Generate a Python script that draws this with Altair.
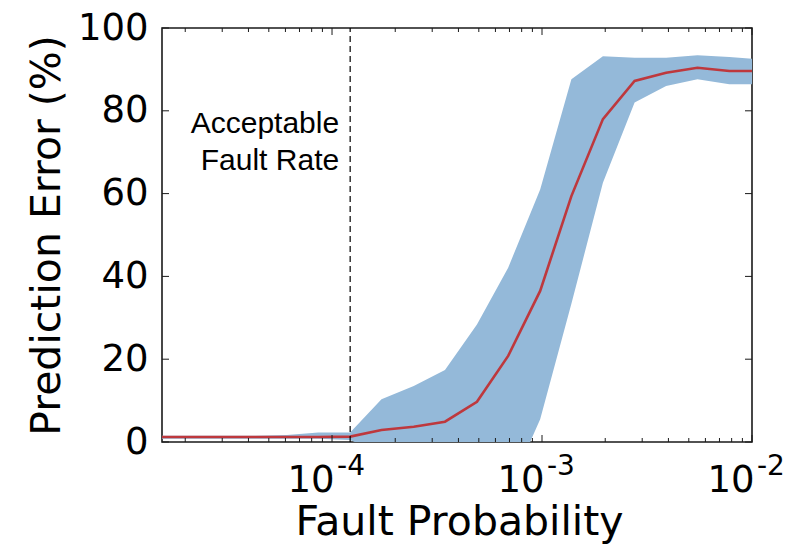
import altair as alt
import pandas as pd

# Fault probability sweep and prediction error statistics (%)
prob = [1.55e-5, 2.2e-5, 3.1e-5, 4.3e-5, 6.1e-5, 8.6e-5, 1.22e-4, 1.72e-4, 2.45e-4,
        3.45e-4, 4.9e-4, 6.9e-4, 9.8e-4, 1.38e-3, 1.95e-3, 2.76e-3, 3.9e-3, 5.5e-3,
        7.8e-3, 1.0e-2]
err_mean = [1.2, 1.2, 1.2, 1.2, 1.2, 1.2, 1.3, 2.9, 3.7, 4.9, 9.7, 20.8, 36.5, 59.4,
            78.0, 87.2, 89.2, 90.4, 89.6, 89.6]
err_upper = [1.5, 1.5, 1.5, 1.5, 1.7, 2.3, 2.3, 10.3, 13.5, 17.4, 28.4, 42.1, 61.0,
             87.6, 93.2, 92.8, 92.8, 93.4, 93.0, 92.6]
err_lower = [0.8, 0.8, 0.8, 0.8, 0.8, 0.8, 0.5, -3.0, -6.0, -9.0, -12.0, -12.0, 5.5,
             33.4, 62.6, 82.0, 86.0, 87.6, 86.4, 86.4]

acceptable_rate = 1.22e-4
annotation_lines = ["Acceptable", "Fault Rate"]
annotation_y = 76.7

x_major = [1e-4, 1e-3, 1e-2]
x_exponents = ["-4", "-3", "-2"]
x_minor = [m * 10.0 ** e for e in (-5, -4, -3) for m in range(2, 10)]
y_major = [0, 20, 40, 60, 80, 100]

W, H = 590, 414
MAJ, MIN = 7, 4
FRAME = "#1a1a1a"

df = pd.DataFrame({"p": prob, "mean": err_mean, "hi": err_upper, "lo": err_lower})

xscale = alt.Scale(type="log", domain=[1.55e-5, 1e-2], nice=False)
yscale = alt.Scale(domain=[0, 100], nice=False, zero=False)

# bottom axis shows the "10" mantissa; the exponents are a text layer
x_axis = alt.Axis(
    values=x_major, ticks=False, tickSize=0, domain=False, grid=False,
    labelExpr="'10'", labelAlign="right", labelOffset=2,
    labelFont="DejaVu Sans", labelFontSize=37, labelColor="black",
    labelPadding=20, labelFlush=False, labelOverlap=False,
    title="Fault Probability", titleFont="DejaVu Sans", titleFontSize=41,
    titleFontWeight="normal", titleColor="black", titleX=W / 2 + 2, titleY=92,
    titleAlign="center", titleBaseline="alphabetic",
)
y_axis = alt.Axis(
    values=y_major, ticks=False, tickSize=0, domain=False, grid=False,
    labelFont="DejaVu Sans", labelFontSize=37, labelColor="black", labelPadding=14,
    title="Prediction Error (%)", titleFont="DejaVu Sans", titleFontSize=41,
    titleFontWeight="normal", titleColor="black", titleAngle=270,
    titleX=-103, titleY=H / 2, titleAlign="center", titleBaseline="alphabetic",
)

band = alt.Chart(df).mark_area(color="#94b9d9", opacity=1, clip=True).encode(
    x=alt.X("p:Q", scale=xscale, axis=x_axis),
    y=alt.Y("hi:Q", scale=yscale, axis=y_axis),
    y2="lo:Q",
)

line = alt.Chart(df).mark_line(color="#be383d", strokeWidth=2.6, clip=True).encode(
    x=alt.X("p:Q", scale=xscale),
    y=alt.Y("mean:Q", scale=yscale),
)

thr = pd.DataFrame({"p": [acceptable_rate]})
threshold = alt.Chart(thr).mark_rule(color="black", strokeWidth=1.2, strokeDash=[6, 4]).encode(
    x=alt.X("p:Q", scale=xscale),
    y=alt.datum(0, scale=yscale),
    y2=alt.datum(100),
)

note = alt.Chart(thr).mark_text(
    text=annotation_lines, align="right", baseline="middle", dx=-11,
    lineHeight=37, font="Liberation Sans", fontSize=30, color="black",
).encode(
    x=alt.X("p:Q", scale=xscale),
    y=alt.datum(annotation_y, scale=yscale),
)

exps = pd.DataFrame({"p": x_major, "e": x_exponents})
exponent_text = alt.Chart(exps).mark_text(
    align="left", baseline="alphabetic", dx=5, font="DejaVu Sans", fontSize=28,
    color="black",
).encode(
    x=alt.X("p:Q", scale=xscale),
    y=alt.value(H + 33),
    text="e:N",
)


def x_ticks(vals, length):
    d = pd.DataFrame({"p": vals})
    base = alt.Chart(d).mark_rule(color=FRAME, strokeWidth=1)
    bottom = base.encode(x=alt.X("p:Q", scale=xscale),
                         y=alt.value(H), y2=alt.value(H - length))
    top = base.encode(x=alt.X("p:Q", scale=xscale),
                      y=alt.value(0), y2=alt.value(length))
    return [bottom, top]


def y_ticks(vals, length):
    d = pd.DataFrame({"hi": vals})
    base = alt.Chart(d).mark_rule(color=FRAME, strokeWidth=1)
    left = base.encode(y=alt.Y("hi:Q", scale=yscale),
                       x=alt.value(0), x2=alt.value(length))
    right = base.encode(y=alt.Y("hi:Q", scale=yscale),
                        x=alt.value(W), x2=alt.value(W - length))
    return [left, right]


layers = [band, line, threshold, note, exponent_text]
layers += x_ticks(x_major, MAJ) + x_ticks(x_minor, MIN) + y_ticks(y_major, MAJ)

chart = alt.layer(*layers).properties(
    width=W, height=H,
    padding={"left": 162, "top": 28, "right": 56, "bottom": 108},
    autosize=alt.AutoSizeParams(type="none"),
    background="white",
).configure_view(stroke=FRAME, strokeWidth=1.6)

chart.save("out.html", embed_options={"renderer": "svg", "actions": False})
